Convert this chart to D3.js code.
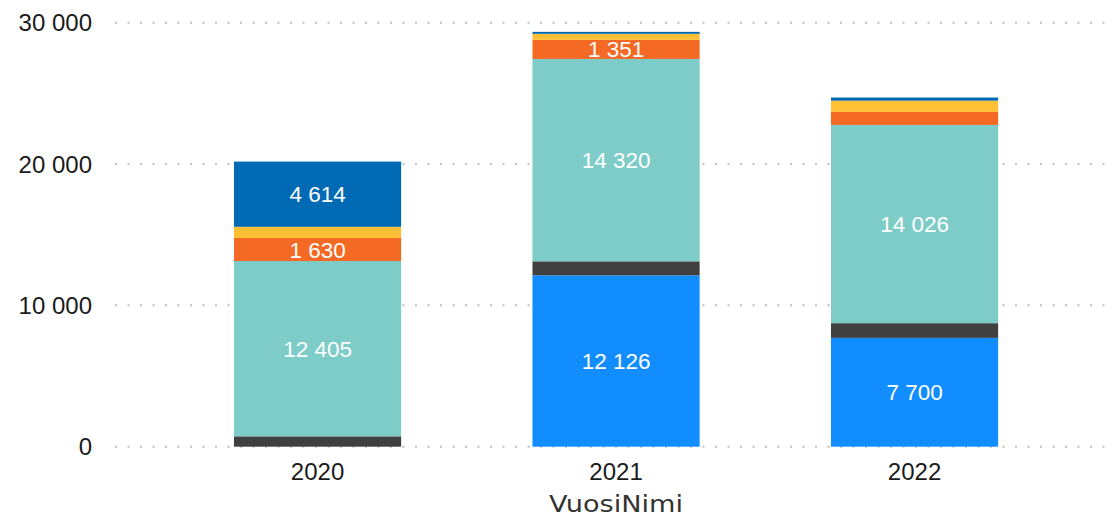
<!DOCTYPE html>
<html>
<head>
<meta charset="utf-8">
<script src="https://cdn.jsdelivr.net/npm/d3@7"></script>
<style>
  html, body { margin: 0; padding: 0; background: #ffffff; }
  svg { display: block; }
</style>
</head>
<body>
<svg id="chart" width="1120" height="521"></svg>
<script>
// ---- data ----
const years = ["2020", "2021", "2022"];
const seriesNames = ["S1", "S2", "S3", "S4", "S5", "S6"];
const s1 = [0, 12126, 7700];        // bright blue
const s2 = [734, 990, 1040];        // dark gray
const s3 = [12405, 14320, 14026];   // teal
const s4 = [1630, 1351, 920];       // orange
const s5 = [790, 425, 800];         // yellow
const s6 = [4614, 140, 220];        // dark blue
const seriesColors = ["#118DFF", "#404040", "#7ECCC8", "#F46A25", "#FFC035", "#006AB4"];
const yTicks = [0, 10000, 20000, 30000];
const xTitle = "VuosiNimi";

const seriesValues = [s1, s2, s3, s4, s5, s6];
const rows = years.map((y, i) => {
  const r = { year: y };
  seriesNames.forEach((s, k) => r[s] = seriesValues[k][i]);
  return r;
});

const svg = d3.select("#chart");
const x = d3.scaleBand().domain(years).range([168.3, 1063.8]).paddingInner(0.44).paddingOuter(0.22);
const y = d3.scaleLinear().domain([0, 30000]).range([446.7, 22.7]);

const fmt = v => d3.format(",")(v).replace(/,/g, " ");

// gridlines
svg.append("g").selectAll("line").data(yTicks).join("line")
  .attr("x1", 115).attr("x2", 1112)
  .attr("y1", d => y(d)).attr("y2", d => y(d))
  .attr("stroke", "#c0c0c0").attr("stroke-width", 2)
  .attr("stroke-dasharray", "2 10.5");

// y tick labels
svg.append("g").selectAll("text").data(yTicks).join("text")
  .attr("x", 92).attr("y", d => y(d)).attr("dy", "0.36em")
  .attr("text-anchor", "end")
  .style("font-family", "'Liberation Sans', Arial, sans-serif")
  .style("font-size", "24px").attr("fill", "#1a1a1a")
  .text(d => fmt(d));

// stacked bars
const stack = d3.stack().keys(seriesNames)(rows);
const layers = svg.append("g").selectAll("g").data(stack).join("g")
  .attr("fill", (d, i) => seriesColors[i]);
layers.selectAll("rect").data(d => d).join("rect")
  .attr("x", d => x(d.data.year))
  .attr("width", x.bandwidth())
  .attr("y", d => y(d[1]))
  .attr("height", d => Math.max(0, y(d[0]) - y(d[1])));

// labels inside bars (only when big enough)
const lab = svg.append("g");
stack.forEach((layer, k) => {
  layer.forEach(d => {
    const v = d[1] - d[0];
    const h = y(d[0]) - y(d[1]);
    if (h >= 18 && k !== 1) {
      lab.append("text")
        .attr("x", x(d.data.year) + x.bandwidth() / 2)
        .attr("y", (y(d[0]) + y(d[1])) / 2)
        .attr("dy", "0.36em")
        .attr("text-anchor", "middle")
        .style("font-family", "'Liberation Sans', Arial, sans-serif")
        .style("font-size", "22.5px").attr("fill", "#ffffff")
        .text(fmt(v));
    }
  });
});

// x tick labels
svg.append("g").selectAll("text").data(years).join("text")
  .attr("x", d => x(d) + x.bandwidth() / 2).attr("y", 471).attr("dy", "0.36em")
  .attr("text-anchor", "middle")
  .style("font-family", "'Liberation Sans', Arial, sans-serif")
  .style("font-size", "24px").attr("fill", "#1a1a1a")
  .text(d => d);

// x title
svg.append("text")
  .attr("x", (x(years[1]) + x.bandwidth() / 2)).attr("y", 504).attr("dy", "0.36em")
  .attr("text-anchor", "middle")
  .attr("textLength", 134).attr("lengthAdjust", "spacingAndGlyphs")
  .style("font-family", "'DejaVu Sans', sans-serif")
  .style("font-size", "23px").attr("fill", "#333333")
  .text(xTitle);
</script>
</body>
</html>
